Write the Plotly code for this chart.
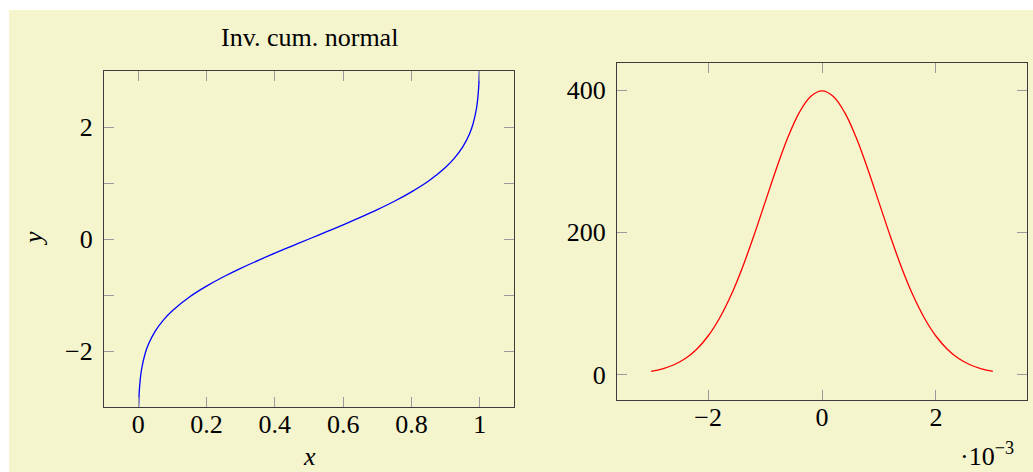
import plotly.graph_objects as go

W, H = 1033, 472

# left panel: inverse cumulative normal
inv_x = [0.0013, 0.003, 0.006, 0.01, 0.02, 0.03, 0.05, 0.075, 0.1, 0.15, 0.2, 0.25,
         0.3, 0.35, 0.4, 0.45, 0.5, 0.55, 0.6, 0.65, 0.7, 0.75, 0.8, 0.85, 0.9,
         0.925, 0.95, 0.97, 0.98, 0.99, 0.994, 0.997, 0.9987]
inv_y = [-3.012, -2.748, -2.512, -2.326, -2.054, -1.881, -1.645, -1.440, -1.282, -1.036, -0.842, -0.674,
         -0.524, -0.385, -0.253, -0.126, 0.0, 0.126, 0.253, 0.385, 0.524, 0.674, 0.842, 1.036, 1.282,
         1.440, 1.645, 1.881, 2.054, 2.326, 2.512, 2.748, 3.012]

# right panel: bell curve, x in the units shown on the axis (·10^-3)
pdf_x = [-3.0, -2.8, -2.6, -2.4, -2.2, -2.0, -1.8, -1.6, -1.4, -1.2, -1.0, -0.8, -0.6, -0.4, -0.2,
         0.0, 0.2, 0.4, 0.6, 0.8, 1.0, 1.2, 1.4, 1.6, 1.8, 2.0, 2.2, 2.4, 2.6, 2.8, 3.0]
pdf_y = [4.4, 7.9, 13.6, 22.4, 35.5, 54.0, 79.0, 110.9, 149.7, 194.2, 242.0, 289.7, 333.2, 368.2, 391.0,
         398.9, 391.0, 368.2, 333.2, 289.7, 242.0, 194.2, 149.7, 110.9, 79.0, 54.0, 35.5, 22.4, 13.6, 7.9, 4.4]

left_xticks = [0, 0.2, 0.4, 0.6, 0.8, 1]
left_xlabels = ["0", "0.2", "0.4", "0.6", "0.8", "1"]
left_yticks = [-2, -1, 0, 1, 2]
left_ylabels = ["\u22122", "", "0", "", "2"]
right_xticks = [-2, 0, 2]
right_xlabels = ["\u22122", "0", "2"]
right_yticks = [0, 200, 400]
right_ylabels = ["0", "200", "400"]

FONT = "Liberation Serif"
BG = "#F4F4CD"


def px(x):
    return x / W


def py(y):
    return 1 - y / H


fig = go.Figure()
fig.add_trace(go.Scatter(x=inv_x, y=inv_y, mode="lines", line=dict(color="#0000FF", width=1.3, shape="spline"),
                         xaxis="x", yaxis="y", showlegend=False))
fig.add_trace(go.Scatter(x=pdf_x, y=pdf_y, mode="lines", line=dict(color="#FF0000", width=1.3, shape="spline"),
                         xaxis="x2", yaxis="y2", showlegend=False))

axis_style = dict(showline=True, linecolor="#3c3c3c", linewidth=1.3, mirror="ticks",
                  ticks="inside", ticklen=10, tickcolor="#9a9a9a", tickwidth=1.2,
                  showgrid=False, zeroline=False, tickfont=dict(family=FONT, size=26, color="black"))
xstyle = dict(axis_style, ticklabelstandoff=-6)
ystyle = dict(axis_style, ticklabelstandoff=5)

fig.update_layout(
    width=W, height=H,
    margin=dict(l=0, r=0, t=0, b=0),
    paper_bgcolor="white",
    plot_bgcolor="rgba(0,0,0,0)",
    font=dict(family=FONT, color="black"),
    xaxis=dict(domain=[px(104), px(514)], range=[-0.1, 1.1], anchor="y",
               tickvals=left_xticks, ticktext=left_xlabels, **xstyle),
    yaxis=dict(domain=[py(407), py(71)], range=[-3, 3], anchor="x",
               tickvals=left_yticks, ticktext=left_ylabels, **ystyle),
    xaxis2=dict(domain=[px(617), px(1027)], range=[-3.6, 3.6], anchor="y2",
                tickvals=right_xticks, ticktext=right_xlabels, **xstyle),
    yaxis2=dict(domain=[py(400), py(63)], range=[-36, 438], anchor="x2",
                tickvals=right_yticks, ticktext=right_ylabels, **ystyle),
    shapes=[dict(type="rect", xref="paper", yref="paper", x0=px(9), x1=1, y0=0, y1=py(10),
                 fillcolor=BG, line=dict(width=0), layer="below")],
    annotations=[
        dict(text="Inv. cum. normal", x=px(309), y=py(37), xref="paper", yref="paper",
             showarrow=False, font=dict(family=FONT, size=26), xanchor="center", yanchor="middle"),
        dict(text="<i>x</i>", x=px(309), y=py(456), xref="paper", yref="paper",
             showarrow=False, font=dict(family=FONT, size=26), xanchor="center", yanchor="middle"),
        dict(text="<i>y</i>", x=px(33), y=py(239), xref="paper", yref="paper", textangle=-90,
             showarrow=False, font=dict(family=FONT, size=26), xanchor="center", yanchor="middle"),
        dict(text="\u00b710<sup>\u22123</sup>", x=px(987), y=1, xref="paper", yref="paper",
             yshift=-436, showarrow=False, font=dict(family=FONT, size=26),
             xanchor="center", yanchor="top"),
    ],
)

# drop the page's default body margin so the figure sits at the window's corner
fig.write_html("out.html", config={"displayModeBar": False},
               post_script="document.body.style.margin='0';")
